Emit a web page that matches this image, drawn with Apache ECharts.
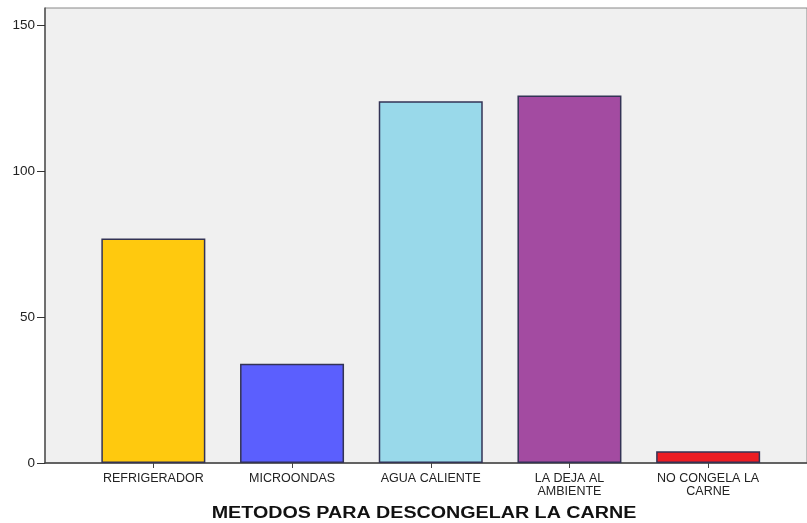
<!DOCTYPE html>
<html>
<head>
<meta charset="utf-8">
<script src="https://cdn.jsdelivr.net/npm/echarts@6/dist/echarts.min.js"></script>
<style>
  html, body { margin: 0; padding: 0; background: #fff; }
  #chart { width: 807px; height: 523px; }
</style>
</head>
<body>
<div id="chart"></div>
<script>
const categories = [
  "REFRIGERADOR",
  "MICROONDAS",
  "AGUA CALIENTE",
  "LA DEJA AL\nAMBIENTE",
  "NO CONGELA LA\nCARNE",
];
const counts = [77, 34, 124, 126, 4];
const barColors = ["#ffc90e", "#5b5ffe", "#99d9ea", "#a34ba1", "#ed1c24"];
const yTicks = [0, 50, 100, 150];
const xTitle = "METODOS PARA DESCONGELAR LA CARNE";

const chart = echarts.init(document.getElementById("chart"));
const font = "Liberation Sans, Arial, sans-serif";

const option = {
  animation: false,
  // SPSS uses a wide bold face for the axis title, so stretch it a bit
  graphic: [
    {
      type: "text",
      x: 424,
      y: 514,
      scaleX: 1.23,
      style: {
        text: xTitle,
        font: "bold 16px Liberation Sans, Arial, sans-serif",
        align: "center",
        verticalAlign: "middle",
        fill: "#111",
      },
    },
  ],
  grid: [
    {
      // plot frame + y axis
      left: 45,
      top: 8,
      width: 790,
      height: 455,
      show: true,
      backgroundColor: "#f0f0f0",
      borderColor: "#888",
      borderWidth: 1,
    },
    {
      // bars
      left: 84,
      top: 8,
      width: 693.5,
      height: 455,
    },
  ],
  xAxis: [
    {
      gridIndex: 0,
      type: "value",
      min: 0,
      max: 1,
      axisLine: { show: true, onZero: false, lineStyle: { color: "#444", width: 1.5 } },
      axisTick: { show: false },
      axisLabel: { show: false },
      splitLine: { show: false },
    },
    {
      gridIndex: 1,
      type: "category",
      data: categories,
      axisLine: { show: false },
      axisTick: {
        show: true,
        alignWithLabel: true,
        length: 5,
        lineStyle: { color: "#444", width: 1 },
      },
      axisLabel: {
        margin: 9,
        interval: 0,
        fontFamily: font,
        fontSize: 12.5,
        lineHeight: 13,
        color: "#222",
      },
    },
  ],
  yAxis: [
    {
      gridIndex: 0,
      type: "value",
      min: 0,
      max: 156,
      axisLine: { show: true, lineStyle: { color: "#555", width: 1.5 } },
      axisTick: {
        show: true,
        length: 8,
        customValues: yTicks,
        lineStyle: { color: "#333", width: 1 },
      },
      axisLabel: {
        customValues: yTicks,
        margin: 10,
        fontFamily: font,
        fontSize: 13.5,
        color: "#222",
      },
      splitLine: { show: false },
    },
    {
      gridIndex: 1,
      type: "value",
      min: 0,
      max: 156,
      show: false,
    },
  ],
  series: [
    {
      type: "bar",
      xAxisIndex: 1,
      yAxisIndex: 1,
      barWidth: 104,
      data: counts.map((v, i) => ({
        value: v,
        itemStyle: { color: barColors[i] },
      })),
      itemStyle: {
        borderColor: "#333355",
        borderWidth: 1.5,
      },
    },
  ],
};

chart.setOption(option);
</script>
</body>
</html>
